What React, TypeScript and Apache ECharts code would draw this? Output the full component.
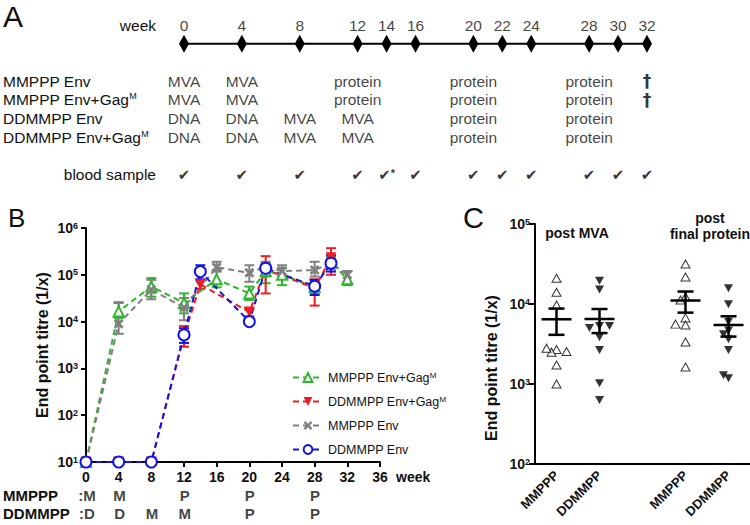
import React, { useEffect, useRef } from "react";
import * as echarts from "echarts";

const FONT = "'Liberation Sans', Arial, Helvetica, sans-serif";
const INK = "#111";

// ---------------- Panel A: schedule ----------------
const timelineWeeks = [0, 4, 8, 12, 14, 16, 20, 22, 24, 28, 30, 32];
const bloodSampleMarks = ["✔", "✔", "✔", "✔", "✔*", "✔", "✔", "✔", "✔", "✔", "✔", "✔"];
const scheduleRows = ["week", "timeline", "", "MMPPP Env", "MMPPP Env+GagM", "DDMMPP Env", "DDMMPP Env+GagM", " ", "blood sample"];
const mmpppRows = ["MMPPP Env", "MMPPP Env+GagM"];
const ddmmppRows = ["DDMMPP Env", "DDMMPP Env+GagM"];
const mmpppWeeks = [0, 4, 12, 20, 28, 32];
const mmpppSteps = ["MVA", "MVA", "protein", "protein", "protein", "†"];
const ddmmppWeeks = [0, 4, 8, 12, 20, 28];
const ddmmppSteps = ["DNA", "DNA", "MVA", "MVA", "protein", "protein"];

// ---------------- Panel B: titres over time ----------------
const bNames = ["MMPPP Env+GagM", "DDMMPP Env+GagM", "MMPPP Env", "DDMMPP Env"];
const mmpppSampleWeeks = [0, 4, 8, 12, 16, 20, 22, 24, 28, 30, 32];
const ddmmppSampleWeeks = [0, 4, 8, 12, 14, 20, 22, 28, 30];

const greenVals = [10, 16500, 56000, 25000, 80000, 40000, 120000, 100000, 55000, 190000, 80000];
const greenLo = [null, 12000, 34000, 15000, 54000, 29000, 66000, 60000, 40000, 148000, 60000];
const greenHi = [null, 26000, 85000, 40000, 126000, 56000, 180000, 140000, 78000, 245000, 120000];

const grayVals = [10, 9000, 48000, 20000, 145000, 110000, 150000, 120000, 126000, 180000, 100000];
const grayLo = [null, 5500, 30000, 10700, 117000, 71000, 92000, 100000, 92000, 130000, 65000];
const grayHi = [null, 25000, 78000, 32000, 190000, 160000, 190000, 160000, 190000, 230000, 120000];

const redVals = [10, 10, 10, 5000, 62000, 16000, 130000, 52000, 230000];
const redLo = [null, null, null, 2900, 50000, 13000, 40000, 22000, 100000];
const redHi = [null, null, null, 8000, 78000, 19000, 250000, 80000, 370000];

const blueVals = [10, 10, 10, 5200, 117000, 10000, 138000, 57000, 177000];
const blueLo = [null, null, null, 3500, 80000, null, 100000, 37000, 117000];
const blueHi = [null, null, null, 7200, 160000, null, 160000, 78000, 260000];

const regimenLabelsB = ["MMPPP", "DDMMPP"];
const regimenWeeksM = [0, 4, 12, 20, 28];
const regimenStepsM = ["M", "M", "P", "P", "P"];
const regimenWeeksD = [0, 4, 8, 12, 20, 28];
const regimenStepsD = ["D", "D", "M", "M", "P", "P"];

// ---------------- Panel C: individual titres ----------------
const cCategories = ["MMPPP", "DDMMPP", "", "MMPPP", "DDMMPP"];
const cMmpppPostMva = [21000, 14000, 9700, 2700, 2500, 2550, 2800, 1730, 1000];
const cDdmmppPostMva = [19500, 15200, 5300, 5000, 5300, 3850, 2660, 1020, 630];
const cMmpppPostProtein = [31600, 21700, 12300, 11200, 6700, 5450, 5600, 3350, 1630];
const cDdmmppPostProtein = [15700, 9900, 6000, 4650, 4200, 3630, 2660, 1180, 1290];

const GREEN = "#2fb52f";
const RED = "#ee1c25";
const GRAY = "#808080";
const BLUE = "#1414e6";
const CROSS = "path://M2,0L5,3L8,0L10,2L7,5L10,8L8,10L5,7L2,10L0,8L3,5L0,2Z";

const supM = (s: string) => s.replace(/GagM$/, "Gag{sup|M}");

function meanSem(vals: number[]) {
  const n = vals.length;
  const m = vals.reduce((a, b) => a + b, 0) / n;
  const sd = Math.sqrt(vals.reduce((a, b) => a + (b - m) * (b - m), 0) / (n - 1));
  return [m, sd / Math.sqrt(n)];
}

function jitter(vals: number[]) {
  const pxPerLog = 80;
  const placed: { x: number; y: number }[] = [];
  const cands = [0, -5, 5, -10, 10, -15, 15];
  return vals.map((v) => {
    const y = Math.log10(v) * pxPerLog;
    const x = cands.find((c) => placed.every((p) => Math.hypot(p.x - c, p.y - y) >= 5.5)) ?? 0;
    placed.push({ x, y });
    return x;
  });
}

function errSeries(id: string, weeks: number[], lo: (number | null)[], hi: (number | null)[], color: string) {
  return {
    type: "custom",
    name: id,
    xAxisIndex: 1,
    yAxisIndex: 1,
    silent: true,
    z: 2,
    encode: { x: 0, y: [1, 2] },
    data: weeks.map((w, i) => (lo[i] == null ? null : [w, lo[i], hi[i]])).filter((d) => d !== null),
    renderItem: (_p: any, api: any) => {
      const x = api.value(0);
      const a = api.coord([x, api.value(1)]);
      const b = api.coord([x, api.value(2)]);
      const cap = 5;
      const style = { stroke: color, lineWidth: 2 };
      return {
        type: "group",
        children: [
          { type: "line", shape: { x1: a[0], y1: a[1], x2: b[0], y2: b[1] }, style },
          { type: "line", shape: { x1: a[0] - cap, y1: a[1], x2: a[0] + cap, y2: a[1] }, style },
          { type: "line", shape: { x1: b[0] - cap, y1: b[1], x2: b[0] + cap, y2: b[1] }, style },
        ],
      };
    },
  };
}

function lineSeries(name: string, weeks: number[], vals: number[], color: string, symbol: string, itemStyle: any, size: number, rotate = 0) {
  return {
    type: "line",
    name,
    xAxisIndex: 1,
    yAxisIndex: 1,
    z: 3,
    data: weeks.map((w, i) => [w, vals[i]]),
    symbol,
    symbolSize: size,
    symbolRotate: rotate,
    showAllSymbol: true,
    lineStyle: { color, width: 2, type: [6, 4] },
    itemStyle,
  };
}

const powRich = (size: number) => ({
  b: { fontSize: size, fontWeight: "bold", fontFamily: FONT, color: INK },
  s: { fontSize: 9, fontWeight: "bold", fontFamily: FONT, color: INK, verticalAlign: "top" },
});
const powFmt = (v: number) => `{b|10}{s|${Math.round(Math.log10(v))}}`;

export default function App() {
  const ref = useRef<HTMLDivElement>(null);
  useEffect(() => {
    if (!ref.current) return;
    const chart = echarts.init(ref.current, null, { renderer: "svg" });

    const cGroups = [cMmpppPostMva, cDdmmppPostMva, null, cMmpppPostProtein, cDdmmppPostProtein];
    const cScatter: any[] = [];
    const cStats: any[] = [];
    cGroups.forEach((vals, gi) => {
      if (!vals) return;
      const filled = gi === 1 || gi === 4;
      const offs = jitter(vals);
      cScatter.push({
        type: "scatter",
        name: "c" + gi,
        xAxisIndex: 3,
        yAxisIndex: 3,
        symbol: "triangle",
        symbolSize: [9, 8],
        symbolRotate: filled ? 180 : 0,
        itemStyle: filled ? { color: "#000" } : { color: "#fff", borderColor: "#000", borderWidth: 1 },
        data: vals.map((v, k) => ({ value: [gi, v], symbolOffset: [offs[k], 0] })),
        z: 3,
      });
      const [m, se] = meanSem(vals);
      cStats.push([gi, m, m - se, m + se]);
    });

    const option: any = {
      animation: false,
      backgroundColor: "#fff",
      textStyle: { fontFamily: FONT },
      grid: [
        { left: 183, top: 15.65, width: 464, height: 168.3 },
        { left: 86, top: 228, width: 294, height: 234 },
        { left: 86, top: 486, width: 294, height: 36 },
        { left: 535, top: 224, width: 215, height: 240 },
      ],
      xAxis: [
        { type: "value", gridIndex: 0, min: 0, max: 32, show: false },
        {
          type: "value", gridIndex: 1, min: 0, max: 36, interval: 4,
          axisLine: { lineStyle: { color: "#000", width: 2 } },
          axisTick: { length: 5, lineStyle: { color: "#000", width: 2 } },
          axisLabel: { margin: 8, fontSize: 14, fontWeight: "bold", color: INK, fontFamily: FONT },
          splitLine: { show: false },
        },
        { type: "value", gridIndex: 2, min: 0, max: 36, show: false },
        {
          type: "category", gridIndex: 3, data: cCategories.map((_, i) => String(i)),
          axisLine: { lineStyle: { color: "#000", width: 2 } },
          axisTick: { alignWithLabel: true, interval: 0, length: 6, lineStyle: { color: "#000", width: 2 } },
          axisLabel: {
            interval: 0, rotate: 45, margin: 9, fontSize: 13, fontWeight: "bold", color: INK, fontFamily: FONT,
            formatter: (_v: string, i: number) => cCategories[i],
          },
          splitLine: { show: false },
        },
      ],
      yAxis: [
        {
          type: "category", gridIndex: 0, data: scheduleRows, inverse: true,
          axisLine: { show: false }, axisTick: { show: false }, splitLine: { show: false },
          axisLabel: {
            interval: 0, align: "left", margin: 181, fontSize: 15.5, color: INK, fontFamily: FONT,
            formatter: (v: string) => {
              if (v === "week" || v === "blood sample") return `{r|${v}}`;
              if (v === "timeline" || !v.trim()) return "";
              return supM(v);
            },
            rich: {
              r: { width: 153, align: "right", fontSize: 15.5, fontFamily: FONT, color: INK },
              sup: { fontSize: 9, verticalAlign: "top", fontFamily: FONT, color: INK },
            },
          },
        },
        {
          type: "log", gridIndex: 1, min: 10, max: 1e6, logBase: 10, splitNumber: 5,
          axisLine: { show: true, lineStyle: { color: "#000", width: 2 } },
          axisTick: { show: true, length: 5, lineStyle: { color: "#000", width: 2 } },
          axisLabel: { margin: 8, formatter: powFmt, rich: powRich(14) },
          splitLine: { show: false }, minorTick: { show: false },
        },
        {
          type: "category", gridIndex: 2, data: regimenLabelsB, inverse: true,
          axisLine: { show: false }, axisTick: { show: false }, splitLine: { show: false },
          axisLabel: { interval: 0, align: "left", margin: 84, fontSize: 15, fontWeight: "bold", color: INK, fontFamily: FONT },
        },
        {
          type: "log", gridIndex: 3, min: 100, max: 1e5, logBase: 10, splitNumber: 3,
          axisLine: { show: true, lineStyle: { color: "#000", width: 2 } },
          axisTick: { show: true, length: 6, lineStyle: { color: "#000", width: 2 } },
          axisLabel: { margin: 5, formatter: powFmt, rich: powRich(14) },
          splitLine: { show: false }, minorTick: { show: false },
        },
      ],
      legend: {
        data: bNames,
        orient: "vertical",
        left: 287,
        top: 366,
        itemWidth: 30,
        itemHeight: 11,
        itemGap: 11,
        selectedMode: false,
        formatter: (n: string) => supM(n),
        textStyle: { fontSize: 12.5, color: INK, fontFamily: FONT, rich: { sup: { fontSize: 8, verticalAlign: "top", fontFamily: FONT, color: INK } } },
      },
      series: [
        // Panel A
        {
          type: "line", xAxisIndex: 0, yAxisIndex: 0, silent: true,
          data: timelineWeeks.map((w) => [w, 1]),
          symbol: "diamond", symbolSize: [10, 18], showAllSymbol: true,
          lineStyle: { color: "#000", width: 2 }, itemStyle: { color: "#000" },
        },
        {
          type: "scatter", xAxisIndex: 0, yAxisIndex: 0, silent: true, symbolSize: 1,
          itemStyle: { color: "transparent" },
          data: timelineWeeks.map((w) => [w, 0]),
          label: { show: true, position: "inside", formatter: (p: any) => String(p.value[0]), fontSize: 15.5, color: INK, fontFamily: FONT },
        },
        {
          type: "scatter", xAxisIndex: 0, yAxisIndex: 0, silent: true, symbolSize: 1,
          itemStyle: { color: "transparent" },
          data: [
            ...mmpppRows.flatMap((row) => mmpppWeeks.map((w, i) => ({ value: [w, scheduleRows.indexOf(row)], name: mmpppSteps[i] }))),
            ...ddmmppRows.flatMap((row) => ddmmppWeeks.map((w, i) => ({ value: [w, scheduleRows.indexOf(row)], name: ddmmppSteps[i] }))),
          ].map((d) =>
            d.name === "†"
              ? { ...d, label: { fontSize: 17, fontWeight: "bold", fontFamily: "'DejaVu Sans', sans-serif", color: "#000" } }
              : d
          ),
          label: { show: true, position: "inside", formatter: (p: any) => p.name, fontSize: 15.5, color: INK, fontFamily: FONT },
        },
        {
          type: "scatter", xAxisIndex: 0, yAxisIndex: 0, silent: true, symbolSize: 1,
          itemStyle: { color: "transparent" },
          data: timelineWeeks.map((w, i) => ({ value: [w, scheduleRows.indexOf("blood sample")], name: bloodSampleMarks[i] })),
          label: {
            show: true, position: "inside", fontSize: 15, color: "#000", fontFamily: "'DejaVu Sans', sans-serif",
            formatter: (p: any) => p.name.replace("*", "{ast|*}"),
            rich: { ast: { fontSize: 11, verticalAlign: "top", color: "#000", fontFamily: FONT, fontWeight: "bold" } },
          },
        },
        // Panel B
        errSeries("eGreen", mmpppSampleWeeks, greenLo, greenHi, GREEN),
        errSeries("eGray", mmpppSampleWeeks, grayLo, grayHi, GRAY),
        errSeries("eRed", ddmmppSampleWeeks, redLo, redHi, RED),
        errSeries("eBlue", ddmmppSampleWeeks, blueLo, blueHi, BLUE),
        lineSeries(bNames[0], mmpppSampleWeeks, greenVals, GREEN, "triangle", { color: "#fff", borderColor: GREEN, borderWidth: 2 }, 10),
        lineSeries(bNames[2], mmpppSampleWeeks, grayVals, GRAY, CROSS, { color: GRAY }, 10),
        lineSeries(bNames[1], ddmmppSampleWeeks, redVals, RED, "triangle", { color: RED }, 11, 180),
        lineSeries(bNames[3], ddmmppSampleWeeks, blueVals, BLUE, "circle", { color: "#fff", borderColor: BLUE, borderWidth: 2 }, 11),
        {
          type: "scatter", xAxisIndex: 2, yAxisIndex: 2, silent: true, symbolSize: 1,
          itemStyle: { color: "transparent" },
          data: [
            ...regimenWeeksM.map((w, i) => ({ value: [w, 0], name: (w === 0 ? ":" : "") + regimenStepsM[i] })),
            ...regimenWeeksD.map((w, i) => ({ value: [w, 1], name: (w === 0 ? ":" : "") + regimenStepsD[i] })),
          ],
          label: { show: true, position: "inside", formatter: (p: any) => p.name, fontSize: 15, fontWeight: "bold", color: INK, fontFamily: FONT },
        },
        // Panel C
        ...cScatter,
        {
          type: "custom", xAxisIndex: 3, yAxisIndex: 3, silent: true, z: 4,
          encode: { x: 0, y: [1, 2, 3] },
          data: cStats,
          renderItem: (_p: any, api: any) => {
            const x = api.value(0);
            const m = api.coord([x, api.value(1)]);
            const lo = api.coord([x, api.value(2)]);
            const hi = api.coord([x, api.value(3)]);
            const style = { stroke: "#000", lineWidth: 2.5 };
            return {
              type: "group",
              children: [
                { type: "line", shape: { x1: m[0] - 15, y1: m[1], x2: m[0] + 15, y2: m[1] }, style },
                { type: "line", shape: { x1: lo[0], y1: lo[1], x2: hi[0], y2: hi[1] }, style },
                { type: "line", shape: { x1: lo[0] - 8, y1: lo[1], x2: lo[0] + 8, y2: lo[1] }, style },
                { type: "line", shape: { x1: hi[0] - 8, y1: hi[1], x2: hi[0] + 8, y2: hi[1] }, style },
              ],
            };
          },
        },
      ],
      graphic: [
        { type: "text", left: 3, top: 1, style: { text: "A", fontSize: 30, fontFamily: FONT, fill: INK } },
        { type: "text", left: 8, top: 205, style: { text: "B", fontSize: 26, fontFamily: FONT, fill: INK } },
        { type: "text", left: 463, top: 203, style: { text: "C", fontSize: 29, fontFamily: FONT, fill: INK } },
        {
          type: "text", x: 42, y: 345, rotation: Math.PI / 2,
          style: { text: "End point titre (1/x)", fontSize: 16, fontWeight: "bold", fontFamily: FONT, fill: INK, align: "center", verticalAlign: "middle" },
        },
        {
          type: "text", x: 491, y: 368, rotation: Math.PI / 2,
          style: { text: "End point titre (1/x)", fontSize: 16, fontWeight: "bold", fontFamily: FONT, fill: INK, align: "center", verticalAlign: "middle" },
        },
        { type: "text", x: 396, y: 477, style: { text: "week", fontSize: 14, fontWeight: "bold", fontFamily: FONT, fill: INK, align: "left", verticalAlign: "middle" } },
        { type: "text", x: 577, y: 233, style: { text: "post MVA", fontSize: 14, fontWeight: "bold", fontFamily: FONT, fill: INK, align: "center", verticalAlign: "middle" } },
        { type: "text", x: 710, y: 218, style: { text: "post", fontSize: 14, fontWeight: "bold", fontFamily: FONT, fill: INK, align: "center", verticalAlign: "middle" } },
        { type: "text", x: 710, y: 234, style: { text: "final protein", fontSize: 14, fontWeight: "bold", fontFamily: FONT, fill: INK, align: "center", verticalAlign: "middle" } },
      ],
    };

    chart.setOption(option);
    return () => chart.dispose();
  }, []);

  return <div ref={ref} style={{ width: 750, height: 525, position: "absolute", left: 0, top: 0 }} />;
}
